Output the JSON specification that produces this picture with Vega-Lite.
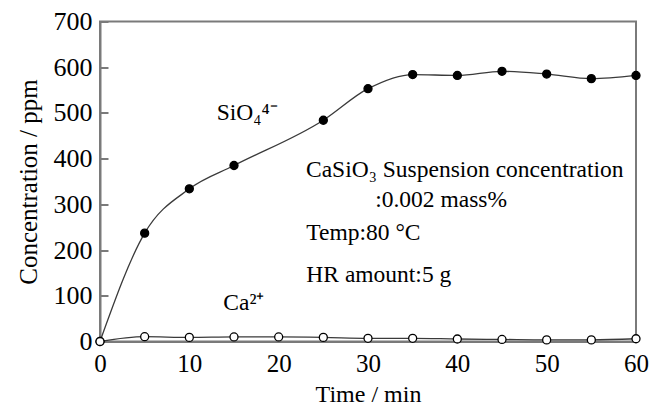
{
  "$schema": "https://vega.github.io/schema/vega-lite/v6.json",
  "width": 536,
  "height": 320,
  "autosize": "none",
  "padding": {"left": 100, "top": 21.5, "right": 26, "bottom": 69.5},
  "background": "white",
  "config": {
    "view": {"stroke": "#7a7a7a", "strokeWidth": 2},
    "font": "Times New Roman, Liberation Serif, serif",
    "axis": {"grid": false, "domainColor": "#7a7a7a", "domainWidth": 2, "tickColor": "#7a7a7a", "tickWidth": 2, "labelColor": "black", "titleColor": "black", "titleFontWeight": "normal"}
  },
  "datasets": {
    "series": [
      {"ion": "SiO4", "t": 0, "c": 0},
      {"ion": "SiO4", "t": 5, "c": 237},
      {"ion": "SiO4", "t": 10, "c": 334},
      {"ion": "SiO4", "t": 15, "c": 385},
      {"ion": "SiO4", "t": 25, "c": 484},
      {"ion": "SiO4", "t": 30, "c": 553},
      {"ion": "SiO4", "t": 35, "c": 584},
      {"ion": "SiO4", "t": 40, "c": 582},
      {"ion": "SiO4", "t": 45, "c": 591},
      {"ion": "SiO4", "t": 50, "c": 585},
      {"ion": "SiO4", "t": 55, "c": 575},
      {"ion": "SiO4", "t": 60, "c": 582},
      {"ion": "Ca", "t": 0, "c": 0},
      {"ion": "Ca", "t": 5, "c": 10.5},
      {"ion": "Ca", "t": 10, "c": 9},
      {"ion": "Ca", "t": 15, "c": 10},
      {"ion": "Ca", "t": 20, "c": 10},
      {"ion": "Ca", "t": 25, "c": 9},
      {"ion": "Ca", "t": 30, "c": 7},
      {"ion": "Ca", "t": 35, "c": 7},
      {"ion": "Ca", "t": 40, "c": 5.5},
      {"ion": "Ca", "t": 45, "c": 4.5},
      {"ion": "Ca", "t": 50, "c": 3.5},
      {"ion": "Ca", "t": 55, "c": 3.5},
      {"ion": "Ca", "t": 60, "c": 6}
    ],
    "notes": [
      {"t": 13.06, "c": 484, "label": "SiO₄⁴⁻"},
      {"t": 13.8, "c": 69, "label": "Ca²⁺"},
      {"t": 23.06, "c": 360, "label": "CaSiO₃ Suspension concentration"},
      {"t": 30.8, "c": 295, "label": ":0.002 mass%"},
      {"t": 23.1, "c": 222, "label": "Temp:80 °C"},
      {"t": 23.1, "c": 131, "label": "HR amount:5 g"}
    ]
  },
  "encoding": {
    "x": {"field": "t", "type": "quantitative", "scale": {"domain": [0, 60], "nice": false},
      "axis": {"title": "Time / min", "values": [0, 10, 20, 30, 40, 50, 60], "tickSize": 0, "labelFlush": false, "labelPadding": 10, "titlePadding": 6, "labelFont": "Times New Roman, Liberation Serif, serif", "titleFont": "Times New Roman, Liberation Serif, serif", "labelFontSize": 25, "titleFontSize": 24}},
    "y": {"field": "c", "type": "quantitative", "scale": {"domain": [0, 700], "nice": false},
      "axis": {"title": "Concentration / ppm", "values": [0, 100, 200, 300, 400, 500, 600, 700], "tickSize": -8, "labelPadding": 16, "titlePadding": 12, "labelFont": "Times New Roman, Liberation Serif, serif", "titleFont": "Times New Roman, Liberation Serif, serif", "labelFontSize": 26, "titleFontSize": 25}}
  },
  "layer": [
    {
      "data": {"name": "series"},
      "mark": {"type": "line", "interpolate": "monotone", "color": "#3a3a3a", "strokeWidth": 1.3},
      "encoding": {"detail": {"field": "ion"}}
    },
    {
      "data": {"name": "series"},
      "mark": {"type": "point", "filled": true, "size": 64, "stroke": "black", "strokeWidth": 1.3, "opacity": 1},
      "encoding": {
        "fill": {"field": "ion", "type": "nominal", "scale": {"domain": ["SiO4", "Ca"], "range": ["black", "white"]}, "legend": null}
      }
    },
    {
      "data": {"name": "notes"},
      "mark": {"type": "text", "align": "left", "baseline": "alphabetic", "font": "Times New Roman, Liberation Serif, serif", "fontSize": 23.5, "color": "black"},
      "encoding": {"text": {"field": "label"}}
    }
  ]
}
